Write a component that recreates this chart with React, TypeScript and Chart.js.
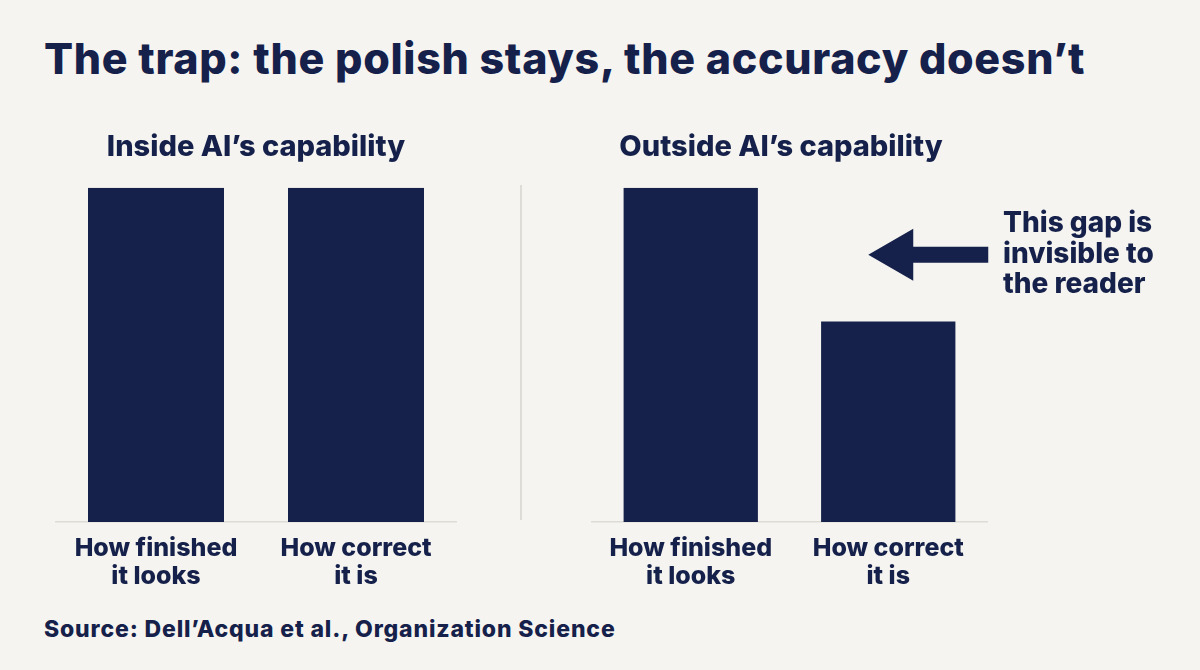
import React, { useEffect, useRef } from "react";
import { Chart, registerables } from "chart.js";

Chart.register(...registerables);

const NAVY = "#15214a";
const BG = "#f5f4f0";
const RULE = "#dddcd6";
const FONT = "Inter, 'Noto Sans', sans-serif";

const categories: string[][] = [
  ["How finished", "it looks"],
  ["How correct", "it is"],
];
const insideValues = [100, 100];
const outsideValues = [100, 60];
const panelTitles = ["Inside AI\u2019s capability", "Outside AI\u2019s capability"];
const titleText = "The trap: the polish stays, the accuracy doesn\u2019t";
const noteLines = ["This gap is", "invisible to", "the reader"];
const sourceText = "Source: Dell\u2019Acqua et al., Organization Science";
const arrowValue = 80; // y-value the arrow points at (inside the gap)

const arrowPlugin = {
  id: "gapArrow",
  afterDatasetsDraw(chart: any, _args: any, opts: any) {
    if (!opts || !opts.enabled) return;
    const { ctx, scales } = chart;
    const meta = chart.getDatasetMeta(0);
    const bar = meta.data[1];
    if (!bar) return;
    const y = scales.y.getPixelForValue(arrowValue);
    const left = bar.x - 20;
    const right = bar.x + 100;
    const headLen = 45;
    const headHalf = 26;
    const shaftHalf = 8;
    ctx.save();
    ctx.fillStyle = NAVY;
    ctx.beginPath();
    ctx.moveTo(left, y);
    ctx.lineTo(left + headLen, y - headHalf);
    ctx.lineTo(left + headLen, y - shaftHalf);
    ctx.lineTo(right, y - shaftHalf);
    ctx.lineTo(right, y + shaftHalf);
    ctx.lineTo(left + headLen, y + shaftHalf);
    ctx.lineTo(left + headLen, y + headHalf);
    ctx.closePath();
    ctx.fill();
    ctx.restore();
  },
};

function Panel(props: {
  values: number[];
  title: string;
  arrow?: boolean;
  left: number;
  padLeft: number;
  padRight: number;
  yWidth: number;
}) {
  const ref = useRef<HTMLCanvasElement | null>(null);
  useEffect(() => {
    if (!ref.current) return;
    const chart = new Chart(ref.current, {
      type: "bar",
      data: {
        labels: categories,
        datasets: [
          {
            data: props.values,
            backgroundColor: NAVY,
            borderWidth: 0,
            barPercentage: 0.68,
            categoryPercentage: 1,
          },
        ],
      },
      plugins: [arrowPlugin],
      options: {
        animation: false,
        responsive: false,
        maintainAspectRatio: false,
        layout: { padding: { left: props.padLeft, right: props.padRight, top: 0, bottom: 8 } },
        plugins: {
          legend: { display: false },
          tooltip: { enabled: false },
          title: {
            display: true,
            text: props.title,
            color: NAVY,
            font: { family: FONT, size: 29, weight: "800" as any, lineHeight: 1.2 },
            padding: { top: 30, bottom: 23 },
          },
          gapArrow: { enabled: !!props.arrow },
        } as any,
        scales: {
          x: {
            grid: { display: false, drawTicks: false },
            border: { display: true, color: RULE, width: 1.5 },
            ticks: {
              color: NAVY,
              padding: 12,
              font: { family: FONT, size: 25, weight: "800" as any, lineHeight: 1.14 },
            },
          },
          y: {
            display: props.yWidth > 0,
            min: 0,
            max: 100,
            grid: { display: false, drawTicks: false },
            border: { display: false },
            ticks: { display: false },
            afterFit: (s: any) => {
              s.width = props.yWidth;
            },
          },
        },
      },
    });
    return () => chart.destroy();
  }, []);
  return (
    <canvas
      ref={ref}
      width={520}
      height={511}
      style={{ position: "absolute", left: props.left, top: 100, width: 520, height: 511 }}
    />
  );
}

export default function App() {
  useEffect(() => {
    document.body.style.margin = "0";
    document.body.style.background = BG;
  }, []);
  return (
    <div
      style={{
        position: "relative",
        width: 1200,
        height: 670,
        background: BG,
        overflow: "hidden",
        fontFamily: FONT,
        color: NAVY,
      }}
    >
      <div
        style={{
          position: "absolute",
          left: 44,
          top: 28,
          fontSize: 43,
          fontWeight: 800,
          letterSpacing: 0.67,
          whiteSpace: "nowrap",
          lineHeight: "60px",
        }}
      >
        {titleText}
      </div>
      <Panel
        values={insideValues}
        title={panelTitles[0]}
        left={0}
        padLeft={56}
        padRight={64}
        yWidth={0}
      />
      <div
        style={{ position: "absolute", left: 520, top: 185, width: 1.5, height: 335, background: RULE }}
      />
      <Panel
        values={outsideValues}
        title={panelTitles[1]}
        left={536}
        padLeft={39}
        padRight={69}
        yWidth={17}
        arrow
      />
      <div
        style={{
          position: "absolute",
          left: 1003,
          top: 207,
          fontSize: 28,
          fontWeight: 800,
          lineHeight: "30.5px",
          whiteSpace: "nowrap",
        }}
      >
        {noteLines.map((l, i) => (
          <div key={i}>{l}</div>
        ))}
      </div>
      <div
        style={{
          position: "absolute",
          left: 44,
          top: 614,
          fontSize: 23,
          fontWeight: 800,
          letterSpacing: 0.85,
          whiteSpace: "nowrap",
          lineHeight: "30px",
        }}
      >
        {sourceText}
      </div>
    </div>
  );
}
